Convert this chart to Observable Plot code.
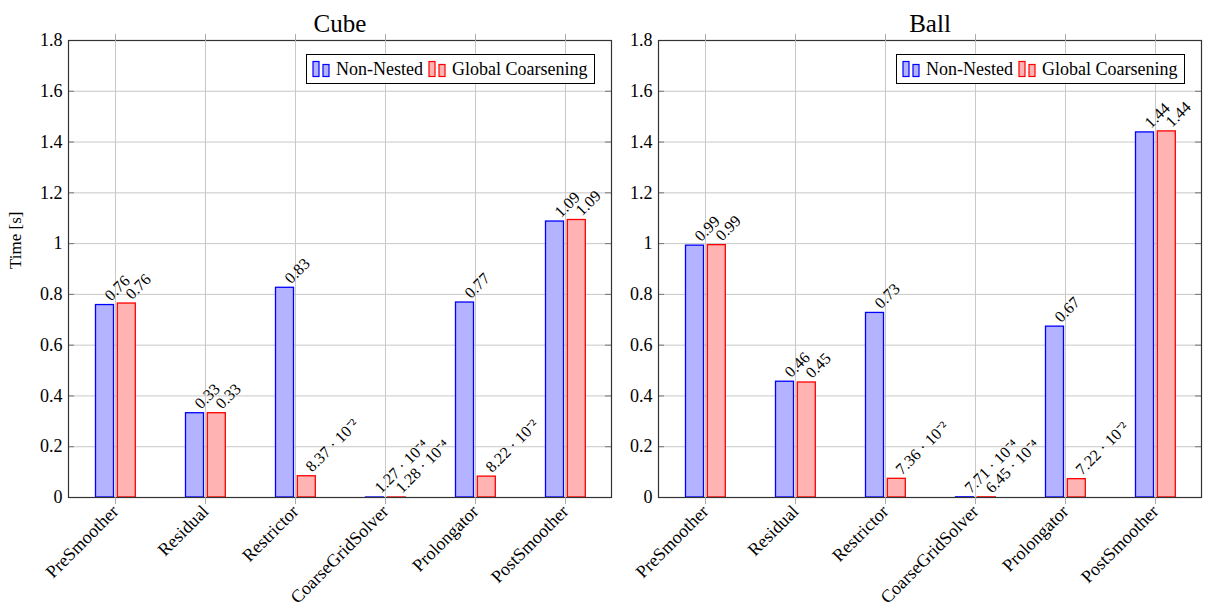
<!DOCTYPE html>
<html>
<head>
<meta charset="utf-8">
<script src="https://cdn.jsdelivr.net/npm/d3@7"></script>
<script src="https://cdn.jsdelivr.net/npm/@observablehq/plot@0.6"></script>
<style>
  html, body { margin: 0; padding: 0; background: #fff; overflow: hidden; }
  #root { position: relative; width: 1207px; height: 610px; font-family: "Liberation Serif", serif; }
  .panel { position: absolute; top: 0; }
  .legend { position: absolute; top: 54px; height: 30px; box-sizing: border-box; border: 1px solid #000; background: #fff;
            display: flex; align-items: center; font-size: 18px; padding-left: 5px; white-space: nowrap; font-family: "Liberation Serif", serif; }
  .legend svg { display: block; }
</style>
</head>
<body>
<div id="root"></div>
<script>
const categories = ["PreSmoother", "Residual", "Restrictor", "CoarseGridSolver", "Prolongator", "PostSmoother"];
const seriesNames = ["Non-Nested", "Global Coarsening"];
const cubeNonNested = [0.758, 0.332, 0.826, 1.27e-4, 0.768, 1.087];
const cubeGlobal    = [0.764, 0.332, 0.0837, 1.28e-4, 0.0822, 1.093];
const ballNonNested = [0.992, 0.456, 0.727, 7.71e-4, 0.673, 1.438];
const ballGlobal    = [0.994, 0.453, 0.0736, 6.45e-4, 0.0722, 1.442];
const yTicks = [0, 0.2, 0.4, 0.6, 0.8, 1, 1.2, 1.4, 1.6, 1.8];

const BLUE = "#0000ff", BLUE_FILL = "#b3b3ff", RED = "#ff0000", RED_FILL = "#ffb3b3";
const FONT = "'Liberation Serif', serif";

const sup = {"-": "\u207B", "0": "\u2070", "1": "\u00B9", "2": "\u00B2", "3": "\u00B3", "4": "\u2074", "5": "\u2075", "6": "\u2076", "7": "\u2077", "8": "\u2078", "9": "\u2079"};
function fmtVal(v) {
  if (v >= 0.1) return v.toFixed(2);
  const e = Math.floor(Math.log10(v));
  const m = v / Math.pow(10, e);
  return m.toFixed(2) + " \u00B7 10" + String(e).split("").map(c => sup[c]).join("");
}
const fmtTick = d => String(+d.toFixed(1));

function panel({title, nonNested, global, width, marginLeft, marginRight, yLabel}) {
  const height = 610, marginTop = 40, marginBottom = 113;
  const plotW = width - marginLeft - marginRight;
  const blue = categories.map((c, i) => ({cat: c, value: nonNested[i]}));
  const red = categories.map((c, i) => ({cat: c, value: global[i]}));
  const marks = [
    Plot.gridY(yTicks, {stroke: "#c8c8c8", strokeOpacity: 1}),
    Plot.gridX({stroke: "#c8c8c8", strokeOpacity: 1}),
    Plot.barY(blue, {x: "cat", y: "value", fill: BLUE_FILL, stroke: BLUE, strokeWidth: 1.3, insetLeft: 25.5, insetRight: 46.5}),
    Plot.barY(red, {x: "cat", y: "value", fill: RED_FILL, stroke: RED, strokeWidth: 1.3, insetLeft: 47.3, insetRight: 24.7}),
    Plot.ruleY(yTicks, {insetRight: plotW - 6, stroke: "#777"}),
    Plot.ruleY(yTicks, {insetLeft: plotW - 6, stroke: "#777"}),
    Plot.frame({stroke: "#333", strokeWidth: 1.2}),
    Plot.axisY({anchor: "left", ticks: yTicks, tickSize: 0, tickPadding: 6, tickFormat: fmtTick, label: null, fontSize: 18, fontFamily: FONT}),
    Plot.axisX({anchor: "top", tickSize: 7, stroke: "#aaa", tickFormat: () => "", label: null}),
    Plot.axisX({anchor: "bottom", tickSize: 7, stroke: "#aaa", tickPadding: 4, tickRotate: -45, label: null, fontSize: 18, fill: "#000", fontFamily: FONT}),
    Plot.text(blue, {x: "cat", y: "value", text: d => fmtVal(d.value), rotate: -45, textAnchor: "start", dx: -8, dy: -7, fontSize: 16, fontFamily: FONT}),
    Plot.text(red, {x: "cat", y: "value", text: d => fmtVal(d.value), rotate: -45, textAnchor: "start", dx: 13, dy: -7, fontSize: 16, fontFamily: FONT}),
    Plot.text([title], {frameAnchor: "top", dy: -26, fontSize: 25, fontFamily: FONT})
  ];
  if (yLabel) marks.push(Plot.text([yLabel], {frameAnchor: "left", dx: -53, rotate: -90, fontSize: 17, fontFamily: FONT}));
  return Plot.plot({
    width, height, marginTop, marginBottom, marginLeft, marginRight,
    style: {fontFamily: FONT, fontSize: "17px", color: "#000", background: "transparent", overflow: "visible"},
    x: {type: "band", domain: categories, padding: 0, axis: null},
    y: {domain: [0, 1.8], axis: null},
    marks
  });
}

function legend(left) {
  const el = document.createElement("div");
  el.className = "legend";
  el.style.left = left + "px";
  el.style.width = "289px";
  const icon = (stroke, fill) =>
    `<svg width="24" height="18"><rect x="1" y="1.5" width="6" height="15" fill="${fill}" stroke="${stroke}" stroke-width="1.2"/>` +
    `<rect x="11" y="4.5" width="6" height="12" fill="${fill}" stroke="${stroke}" stroke-width="1.2"/></svg>`;
  el.innerHTML = icon(BLUE, BLUE_FILL) + `<span>${seriesNames[0]}</span><span style="width:5px"></span>` +
                 icon(RED, RED_FILL) + `<span>${seriesNames[1]}</span>`;
  return el;
}

const root = document.getElementById("root");
const p1 = panel({title: "Cube", nonNested: cubeNonNested, global: cubeGlobal, width: 620, marginLeft: 68, marginRight: 9, yLabel: "Time [s]"});
p1.classList.add("panel"); p1.style.left = "0px";
const p2 = panel({title: "Ball", nonNested: ballNonNested, global: ballGlobal, width: 595, marginLeft: 46, marginRight: 6});
p2.classList.add("panel"); p2.style.left = "612px";
root.appendChild(p1);
root.appendChild(p2);
root.appendChild(legend(306));
root.appendChild(legend(896));
</script>
</body>
</html>
